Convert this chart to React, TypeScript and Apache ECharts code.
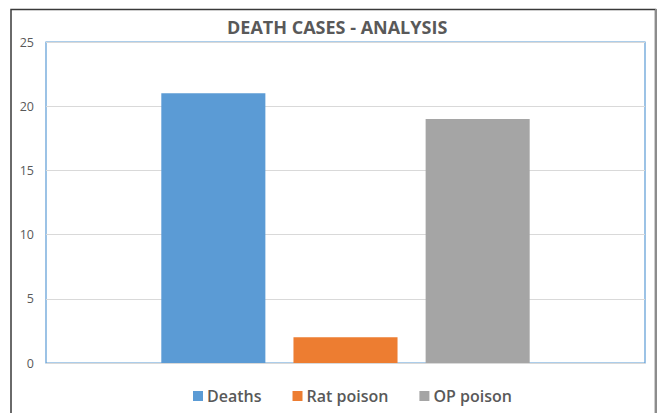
import React, { useEffect, useRef } from "react";
import * as echarts from "echarts";

const categories = ["Deaths"];
const seriesNames = ["Deaths", "Rat poison", "OP poison"];
const seriesValues = [[21], [2], [19]];
const seriesColors = ["#5B9BD5", "#ED7D31", "#A5A5A5"];
const yTicks = { min: 0, max: 25, interval: 5 };

export default function App() {
  const ref = useRef<HTMLDivElement>(null);

  useEffect(() => {
    if (!ref.current) return;
    const chart = echarts.init(ref.current, null, { renderer: "svg" });
    chart.setOption({
      animation: false,
      backgroundColor: "#ffffff",
      textStyle: { fontFamily: "Open Sans" },
      title: {
        text: "DEATH CASES - ANALYSIS",
        left: 222,
        top: 13,
        textStyle: {
          fontFamily: "Open Sans",
          fontSize: 18,
          fontWeight: "bold",
          color: "#595959",
        },
      },
      graphic: [
        {
          type: "polyline",
          shape: { points: [[11, 420], [11, 9.5], [655.5, 9.5], [655.5, 420]] },
          style: { stroke: "#3a3a3a", lineWidth: 1.5, fill: "none" },
          silent: true,
        },
        {
          type: "line",
          shape: { x1: 656, y1: 9, x2: 656, y2: 420 },
          style: { stroke: "#8c8c8c", lineWidth: 2 },
          silent: true,
        },
      ],
      legend: {
        bottom: 4,
        left: 188,
        itemWidth: 10,
        itemHeight: 10,
        itemGap: 31,
        icon: "rect",
        textStyle: {
          fontFamily: "Open Sans",
          fontSize: 16,
          fontWeight: 600,
          color: "#595959",
          padding: [0, 0, 0, -1],
        },
        data: seriesNames,
      },
      grid: {
        left: 46,
        right: 14,
        top: 42,
        bottom: 50,
        show: true,
        borderColor: "#5B9BD5",
        borderWidth: 1.2,
        containLabel: false,
      },
      xAxis: {
        type: "category",
        data: categories,
        axisLine: { show: false },
        axisTick: { show: false },
        axisLabel: { show: false },
      },
      yAxis: {
        type: "value",
        min: yTicks.min,
        max: yTicks.max,
        interval: yTicks.interval,
        axisLine: { show: false },
        axisTick: { show: false },
        axisLabel: { color: "#595959", fontSize: 12.5, margin: 12 },
        splitLine: { lineStyle: { color: "#D9D9D9", width: 1 } },
      },
      series: seriesNames.map((name, i) => ({
        name,
        type: "bar",
        data: seriesValues[i],
        itemStyle: { color: seriesColors[i] },
        barGap: "27%",
        barCategoryGap: "38.5%",
      })),
    });
    return () => chart.dispose();
  }, []);

  return <div ref={ref} style={{ width: 659, height: 413, position: "absolute", left: 0, top: 0 }} />;
}
